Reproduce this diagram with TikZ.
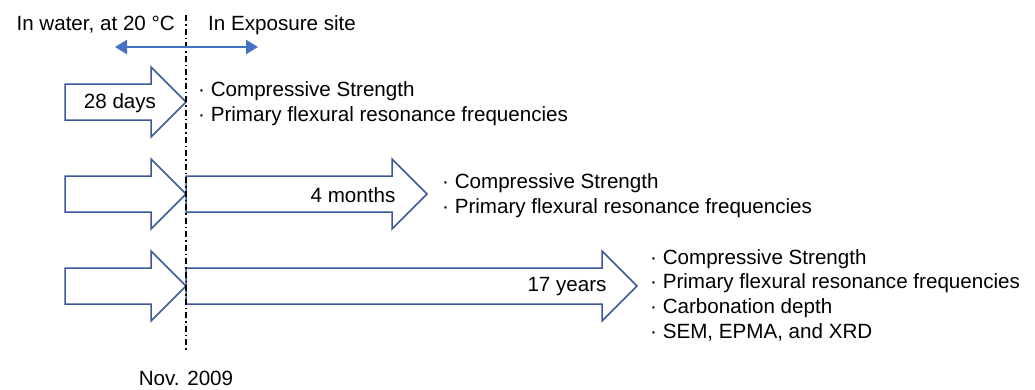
\documentclass[tikz,border=0pt]{standalone}
\usepackage{fontspec}
\setmainfont{Liberation Sans}
\usetikzlibrary{positioning,arrows.meta}
\definecolor{outlineblue}{RGB}{59,89,152}
\definecolor{spanblue}{RGB}{68,114,196}
\begin{document}
\begin{tikzpicture}[x=1pt,y=-1pt,font=\fontsize{20.6}{24.7}\selectfont,
		blockarrow/.style={draw=outlineblue,line width=1.5pt,fill=white,line join=miter},
		timetext/.style={inner sep=0pt},
		itemlist/.style={anchor=west,align=left,inner sep=0pt}]
	\useasboundingbox (0,0) rectangle (1035,389);
	% curing in water
	\draw[blockarrow] (65,84) -- (151,84) -- (151,67) -- (186,102) -- (151,137) -- (151,120) -- (65,120) -- cycle;
	\draw[blockarrow] (65,176) -- (151,176) -- (151,159) -- (186,194) -- (151,229) -- (151,212) -- (65,212) -- cycle;
	\draw[blockarrow] (65,268) -- (151,268) -- (151,251) -- (186,286) -- (151,321) -- (151,304) -- (65,304) -- cycle;
	% exposure
	\draw[blockarrow] (186,176) -- (392,176) -- (392,159) -- (427,194) -- (392,229) -- (392,212) -- (186,212) -- cycle;
	\draw[blockarrow] (186,268) -- (602,268) -- (602,251) -- (637,286) -- (602,321) -- (602,304) -- (186,304) -- cycle;

	\coordinate (linetop) at (186,15);
	\coordinate (linebottom) at (186,350);
	\draw[line width=1.5pt,dash pattern=on 6pt off 3pt on 1.5pt off 3pt] (linetop) -- (linebottom);

	\coordinate (waterend) at (115,47);
	\coordinate (siteend) at (258,47);
	\draw[{Triangle[length=12pt,width=14pt]}-{Triangle[length=12pt,width=14pt]},spanblue,line width=2.5pt] (waterend) -- (siteend);

	\node[timetext,anchor=east] (water) at (175,25) {In water, at 20 °C};
	\node[timetext,anchor=west] (site) at (208,25) {In Exposure site};
	\node[timetext] (nov) at (186,378) {Nov. 2009};

	\node[timetext] (days) at (120,103) {28 days};
	\node[timetext] (months) at (353,195) {4 months};
	\node[timetext] (years) at (567,287) {17 years};

	\node[itemlist] (tests1) at (198,103.5) {· Compressive Strength\\· Primary flexural resonance frequencies};
	\node[itemlist] (tests2) at (442,195.5) {· Compressive Strength\\· Primary flexural resonance frequencies};
	\node[itemlist] (tests3) at (650,295) {· Compressive Strength\\· Primary flexural resonance frequencies\\· Carbonation depth\\· SEM, EPMA, and XRD};
\end{tikzpicture}
\end{document}
